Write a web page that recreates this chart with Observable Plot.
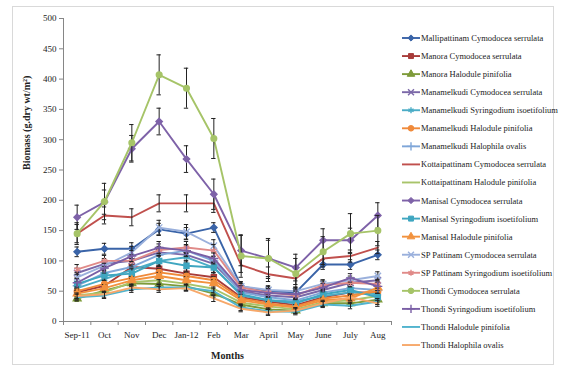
<!DOCTYPE html>
<html><head><meta charset="utf-8">
<script src="https://cdn.jsdelivr.net/npm/d3@7"></script>
<script src="https://cdn.jsdelivr.net/npm/@observablehq/plot@0.6"></script>
<style>
body{margin:0;background:#fff;}
#wrap{position:relative;width:562px;height:374px;overflow:hidden;font-family:"Liberation Serif",serif;}
#border{position:absolute;left:12px;top:6px;width:542px;height:359px;border:1px solid #d9d9d9;box-sizing:border-box;}
#chart{position:absolute;left:0;top:0;}
#legend{position:absolute;left:0;top:0;}
</style></head><body><div id="wrap"><div id="border"></div><div id="chart"></div><svg id="legend" width="562" height="374"></svg></div>
<script>
const months = ["Sep-11","Oct","Nov","Dec","Jan-12","Feb","Mar","April","May","June","July","Aug"];
const yTicks = [0,50,100,150,200,250,300,350,400,450,500];

const seriesNames = [
  "Mallipattinam Cymodocea serrulata","Manora Cymodocea serrulata","Manora Halodule pinifolia",
  "Manamelkudi Cymodocea serrulata","Manamelkudi Syringodium isoetifolium","Manamelkudi Halodule pinifolia",
  "Manamelkudi Halophila ovalis","Kottaipattinam Cymodocea serrulata","Kottaipattinam Halodule pinifolia",
  "Manisal Cymodocea serrulata","Manisal Syringodium isoetifolium","Manisal Halodule pinifolia",
  "SP Pattinam Cymodocea serrulata","SP Pattinam Syringodium isoetifolium","Thondi Cymodocea serrulata",
  "Thondi Syringodium isoetifolium","Thondi Halodule pinifolia","Thondi Halophila ovalis"
];
const seriesColors = ["#3a64a8","#a83c3a","#7e9b3a","#7b68a8","#4aacc6","#f08a3a","#7fa6d8","#c0504d","#a8c46a",
  "#7e62a8","#3fa6c0","#f2923e","#9ab0dc","#e08a88","#a6c468","#7a5fa5","#52b4ce","#f7a86a"];
const seriesSymbols = ["diamond2","square","triangle","times","asterisk","circle","plus",null,null,
  "diamond2","square","triangle","times","asterisk","circle","plus",null,null];

const mallipattinamCym   = [115,120,120,152,145,155,58,50,48,94,94,110];
const manoraCym          = [48,59,90,87,79,73,40,33,27,40,48,48];
const manoraHalo         = [38,51,63,62,58,46,28,20,18,30,30,36];
const manamelkudiCym     = [80,95,100,114,110,95,50,43,40,52,64,68];
const manamelkudiSyr     = [55,70,85,100,106,89,43,35,33,42,48,45];
const manamelkudiHalo    = [50,62,72,81,75,68,38,30,25,38,43,50];
const manamelkudiHalophila = [59,80,90,110,117,100,48,40,35,48,55,52];
const kottaipattinamCym  = [145,175,172,195,195,195,93,78,71,104,108,122];
const kottaipattinamHalo = [43,48,65,68,62,54,31,25,20,32,35,42];
const manisalCym         = [172,197,285,330,268,210,117,104,89,134,134,175];
const manisalSyr         = [62,76,79,100,92,89,45,35,30,45,52,40];
const manisalHalo        = [46,55,68,75,68,63,35,28,23,35,38,56];
const spPattinamCym      = [73,92,114,155,148,125,58,52,50,62,68,75];
const spPattinamSyr      = [86,100,100,118,122,117,56,48,43,60,64,62];
const thondiCym          = [145,198,295,407,385,302,108,104,79,115,145,150];
const thondiSyr          = [64,88,108,122,117,104,52,47,45,56,72,58];
const thondiHalo         = [40,43,53,56,56,50,23,17,16,28,26,33];
const thondiHalophila    = [42,45,56,53,55,38,21,15,18,30,40,30];

const mallipattinamCymErr   = [8,9,10,10,10,8,8,8,8,8,8,8];
const manoraCymErr          = [6,8,10,8,8,8,6,6,6,6,6,6];
const manoraHaloErr         = [5,6,6,6,6,6,5,5,5,5,5,5];
const manamelkudiCymErr     = [8,9,9,10,10,9,7,7,7,7,7,7];
const manamelkudiSyrErr     = [6,7,8,8,8,8,6,6,6,6,6,6];
const manamelkudiHaloErr    = [5,6,6,6,6,6,5,5,5,5,5,5];
const manamelkudiHalophilaErr = [7,8,8,9,9,8,6,6,6,6,6,6];
const kottaipattinamCymErr  = [15,14,14,14,14,15,12,12,10,10,10,10];
const kottaipattinamHaloErr = [5,5,6,6,6,6,5,5,5,5,5,5];
const manisalCymErr         = [20,20,22,22,22,25,25,30,22,19,20,21];
const manisalSyrErr         = [7,8,8,9,9,9,6,6,6,6,6,6];
const manisalHaloErr        = [5,6,6,6,6,6,5,5,5,5,5,5];
const spPattinamCymErr      = [8,9,10,12,12,10,7,7,7,7,7,7];
const spPattinamSyrErr      = [8,9,10,10,10,10,7,7,7,7,7,7];
const thondiCymErr          = [18,30,30,33,33,33,35,33,25,25,33,25];
const thondiSyrErr          = [7,8,9,10,10,9,7,7,7,7,7,7];
const thondiHaloErr         = [5,5,5,5,5,5,5,5,5,5,5,5];
const thondiHalophilaErr    = [5,5,5,5,5,5,5,5,5,5,5,5];

const seriesValues = [mallipattinamCym,manoraCym,manoraHalo,manamelkudiCym,manamelkudiSyr,manamelkudiHalo,
  manamelkudiHalophila,kottaipattinamCym,kottaipattinamHalo,manisalCym,manisalSyr,manisalHalo,
  spPattinamCym,spPattinamSyr,thondiCym,thondiSyr,thondiHalo,thondiHalophila];
const seriesErrors = [mallipattinamCymErr,manoraCymErr,manoraHaloErr,manamelkudiCymErr,manamelkudiSyrErr,manamelkudiHaloErr,
  manamelkudiHalophilaErr,kottaipattinamCymErr,kottaipattinamHaloErr,manisalCymErr,manisalSyrErr,manisalHaloErr,
  spPattinamCymErr,spPattinamSyrErr,thondiCymErr,thondiSyrErr,thondiHaloErr,thondiHalophilaErr];

const strokeSymbols = new Set(["times","asterisk","plus"]);
const axisColor = "#868686";
const textColor = "#222";
const serif = "'Liberation Serif', 'Times New Roman', serif";

const marks = [
  Plot.ruleY([0], {stroke: axisColor}),
  Plot.ruleX([-0.5], {stroke: axisColor}),
  Plot.axisY({ticks: yTicks, tickSize: 4, tickPadding: 3, label: null, stroke: axisColor, fill: textColor, fontSize: 9}),
  Plot.axisX({ticks: d3.range(months.length), tickFormat: i => months[i], tickSize: 0, tickPadding: 10, label: null, fill: textColor, fontSize: 9}),
  Plot.axisX({ticks: d3.range(months.length + 1).map(i => i - 0.5), tickFormat: () => "", tickSize: 4, label: null, stroke: axisColor}),
  Plot.text(["Months"], {frameAnchor: "bottom", dy: 37, fontWeight: "bold", fontSize: 10, fill: textColor}),
  Plot.text(["Biomass (g.dry wt/m²)"], {frameAnchor: "left", rotate: -90, dx: -37, fontWeight: "bold", fontSize: 10, fill: textColor})
];

seriesNames.forEach((name, si) => {
  const data = seriesValues[si].map((v, i) => ({i, v, e: seriesErrors[si][i]}));
  const color = seriesColors[si];
  marks.push(Plot.line(data, {x: "i", y: "v", stroke: color, strokeWidth: 1.9}));
  marks.push(Plot.ruleX(data, {x: "i", y1: d => d.v - d.e, y2: d => d.v + d.e, stroke: "#222", strokeWidth: 1}));
  marks.push(Plot.ruleY(data, {y: d => d.v + d.e, x1: d => d.i - 0.08, x2: d => d.i + 0.08, stroke: "#222", strokeWidth: 1}));
  marks.push(Plot.ruleY(data, {y: d => d.v - d.e, x1: d => d.i - 0.08, x2: d => d.i + 0.08, stroke: "#222", strokeWidth: 1}));
  const sym = seriesSymbols[si];
  if (sym) {
    if (strokeSymbols.has(sym)) {
      marks.push(Plot.dot(data, {x: "i", y: "v", symbol: sym, r: 3, stroke: color, strokeWidth: 1.4, fill: "none"}));
    } else {
      marks.push(Plot.dot(data, {x: "i", y: "v", symbol: sym, r: 2.8, fill: color, stroke: color}));
    }
  }
});

const chart = Plot.plot({
  width: 562, height: 374,
  marginLeft: 63, marginRight: 171, marginTop: 18, marginBottom: 53,
  x: {type: "linear", domain: [-0.5, months.length - 0.5], axis: null},
  y: {domain: [0, 500], axis: null},
  style: {fontFamily: serif, fontSize: "9px", background: "transparent", color: textColor},
  marks
});
document.getElementById("chart").appendChild(chart);

// legend
const symMap = {diamond2: d3.symbolDiamond2, square: d3.symbolSquare, triangle: d3.symbolTriangle,
  times: d3.symbolTimes, asterisk: d3.symbolAsterisk, circle: d3.symbolCircle, plus: d3.symbolPlus};
const leg = d3.select("#legend");
seriesNames.forEach((name, si) => {
  const y = 38 + si * 18.06;
  const g = leg.append("g").attr("transform", `translate(0,${y})`);
  g.append("line").attr("x1", 402).attr("x2", 420).attr("y1", 0).attr("y2", 0)
    .attr("stroke", seriesColors[si]).attr("stroke-width", 1.9);
  const sym = seriesSymbols[si];
  if (sym) {
    const stroked = strokeSymbols.has(sym);
    g.append("path").attr("transform", "translate(411,0)")
      .attr("d", d3.symbol().type(symMap[sym]).size(Math.PI * 2.8 * 2.8)())
      .attr("fill", stroked ? "none" : seriesColors[si])
      .attr("stroke", seriesColors[si]).attr("stroke-width", stroked ? 1.4 : 1);
  }
  g.append("text").attr("x", 421).attr("y", 3).style("font-family", serif)
    .attr("font-size", 8.5).attr("fill", textColor).text(name);
});
</script></body></html>
